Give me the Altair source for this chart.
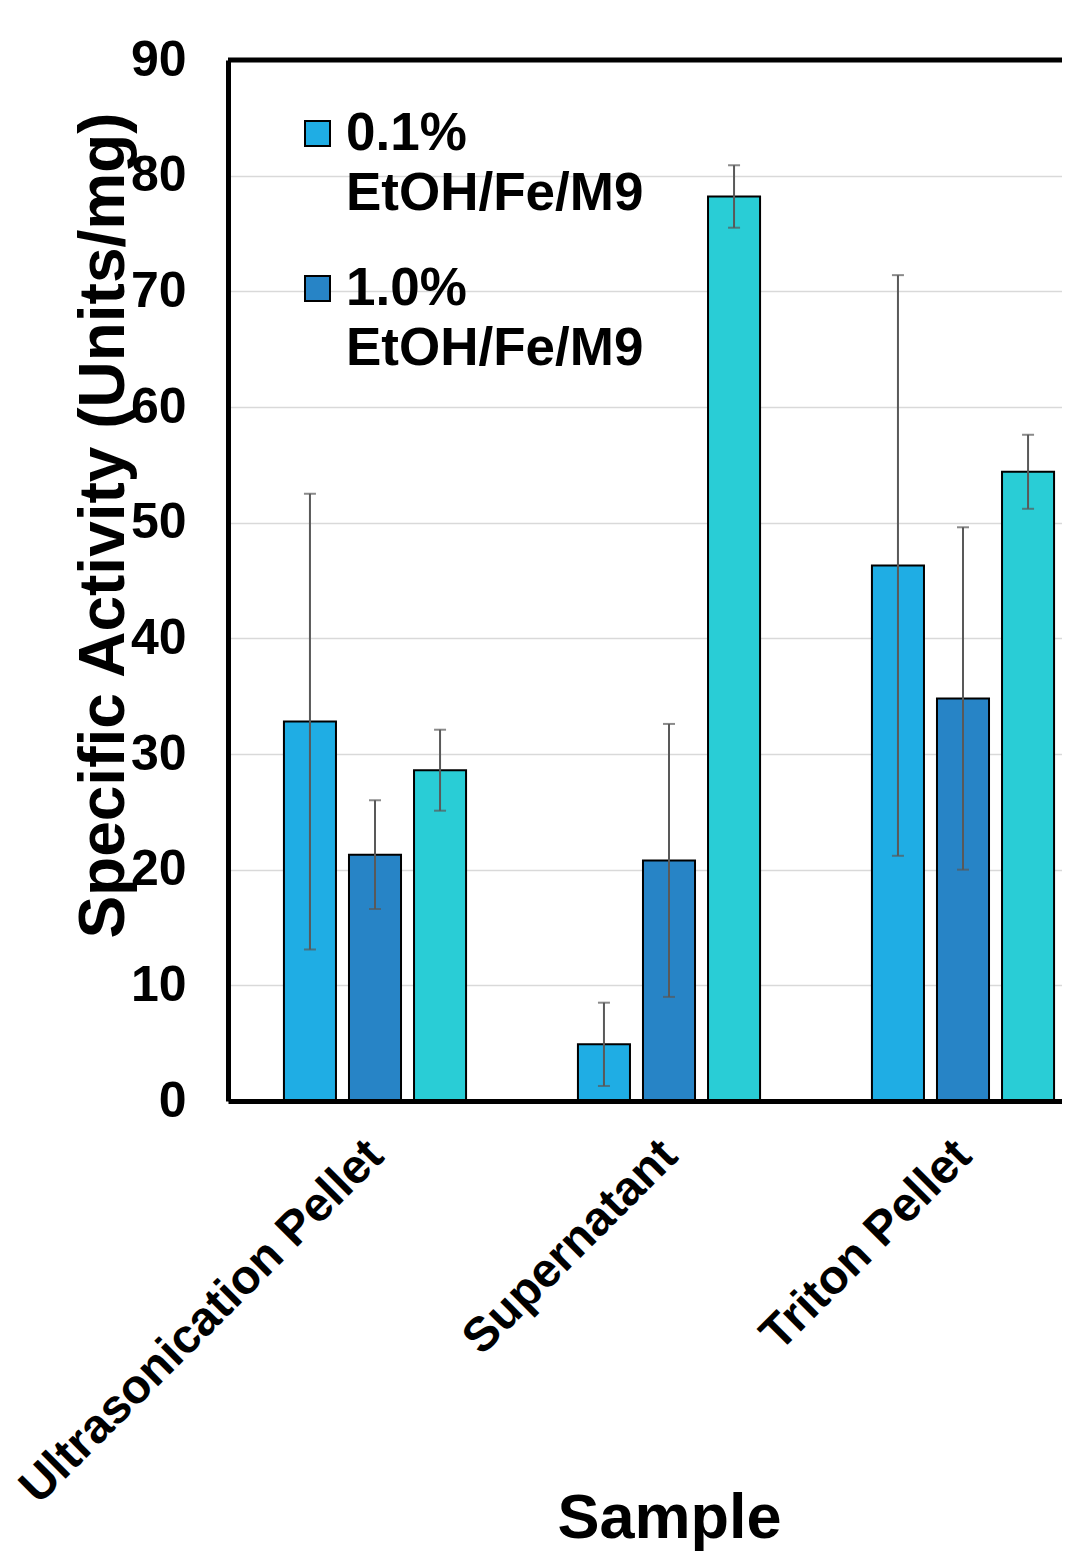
import altair as alt
import pandas as pd

samples = ["Ultrasonication Pellet", "Supernatant", "Triton Pellet"]
series = ["0.1% EtOH/Fe/M9", "1.0% EtOH/Fe/M9", "Control"]
colors = ["#1FADE4", "#2784C6", "#29CDD6"]

s1_mean = [32.8, 4.9, 46.3]
s1_err = [19.7, 3.6, 25.1]
s2_mean = [21.3, 20.8, 34.8]
s2_err = [4.7, 11.8, 14.8]
s3_mean = [28.6, 78.2, 54.4]
s3_err = [3.5, 2.7, 3.2]

rows = []
for i, smp in enumerate(samples):
    for name, m, e in [(series[0], s1_mean, s1_err), (series[1], s2_mean, s2_err), (series[2], s3_mean, s3_err)]:
        rows.append(dict(sample=smp, series=name, value=m[i], lo=m[i] - e[i], hi=m[i] + e[i]))
df = pd.DataFrame(rows)

FONT = "Liberation Sans"

x_enc = alt.X(
    "sample:N",
    sort=samples,
    scale=alt.Scale(range=[0, 882], paddingInner=0, paddingOuter=0),
    axis=alt.Axis(
        title="Sample",
        labelAngle=-45,
        labelFontSize=48,
        labelFont=FONT,
        labelFontWeight="bold",
        labelColor="black",
        labelPadding=30,
        labelOffset=-16,
        labelLimit=0,
        ticks=False,
        domainColor="black",
        domainWidth=5,
        titleFontSize=63,
        titleFont=FONT,
        titleFontWeight="bold",
        titleColor="black",
        titleX=441,
        titleY=436,
        titleAlign="center",
        titleBaseline="alphabetic",
        zindex=1,
    ),
)
xoff = alt.XOffset("series:N", sort=series, scale=alt.Scale(paddingInner=0.2, paddingOuter=0.86))
y_scale = alt.Scale(domain=[0, 90], nice=False)

bars = alt.Chart(df).mark_bar(stroke="black", strokeWidth=2).encode(
    x=x_enc,
    xOffset=xoff,
    y=alt.Y(
        "value:Q",
        scale=y_scale,
        axis=alt.Axis(
            values=list(range(0, 100, 10)),
            title="Specific Activity (Units/mg)",
            labelFontSize=50,
            labelFont=FONT,
            labelFontWeight="bold",
            labelColor="black",
            labelPadding=42,
            ticks=False,
            domainColor="black",
            domainWidth=5,
            gridColor="#d9d9d9",
            gridWidth=1.5,
            titleFontSize=64,
            titleFont=FONT,
            titleFontWeight="bold",
            titleColor="black",
            titleX=-124,
            titleY=465,
            titleAlign="center",
            titleBaseline="middle",
        ),
    ),
    color=alt.Color(
        "series:N",
        sort=series,
        scale=alt.Scale(domain=series, range=colors),
        legend=alt.Legend(
            values=series[:2],
            title=None,
            orient="none",
            legendX=63,
            legendY=47,
            symbolType="square",
            symbolSize=625,
            symbolStrokeColor="black",
            symbolStrokeWidth=2,
            symbolOpacity=1,
            labelFontSize=53,
            labelFont=FONT,
            labelFontWeight="bold",
            labelColor="black",
            labelLimit=0,
            labelOffset=2,
            rowPadding=41,
            labelExpr="split(datum.label, ' ')",
        ),
    ),
)

err_rule = alt.Chart(df).mark_rule(color="#595959", strokeWidth=2).encode(
    x=alt.X("sample:N", sort=samples), xOffset=xoff, y=alt.Y("lo:Q", scale=y_scale), y2="hi:Q"
)
cap_lo = alt.Chart(df).mark_tick(color="#595959", thickness=2, size=12).encode(
    x=alt.X("sample:N", sort=samples), xOffset=xoff, y=alt.Y("lo:Q", scale=y_scale)
)
cap_hi = alt.Chart(df).mark_tick(color="#595959", thickness=2, size=12).encode(
    x=alt.X("sample:N", sort=samples), xOffset=xoff, y=alt.Y("hi:Q", scale=y_scale)
)
top_border = alt.Chart(pd.DataFrame({"v": [90]})).mark_rule(color="black", strokeWidth=5).encode(
    y=alt.Y("v:Q", scale=y_scale)
)

chart = (
    alt.layer(bars, err_rule, cap_lo, cap_hi, top_border)
    .properties(
        width=834,
        height=1041,
        autosize=alt.AutoSizeParams(type="none"),
        padding={"left": 220, "top": 52, "right": 0, "bottom": 451},
    )
    .configure_view(stroke=None)
    .configure(font=FONT, style={"guide-label": {"lineHeight": 60}})
)

chart.save("out.html", embed_options={"renderer": "svg", "actions": False})
